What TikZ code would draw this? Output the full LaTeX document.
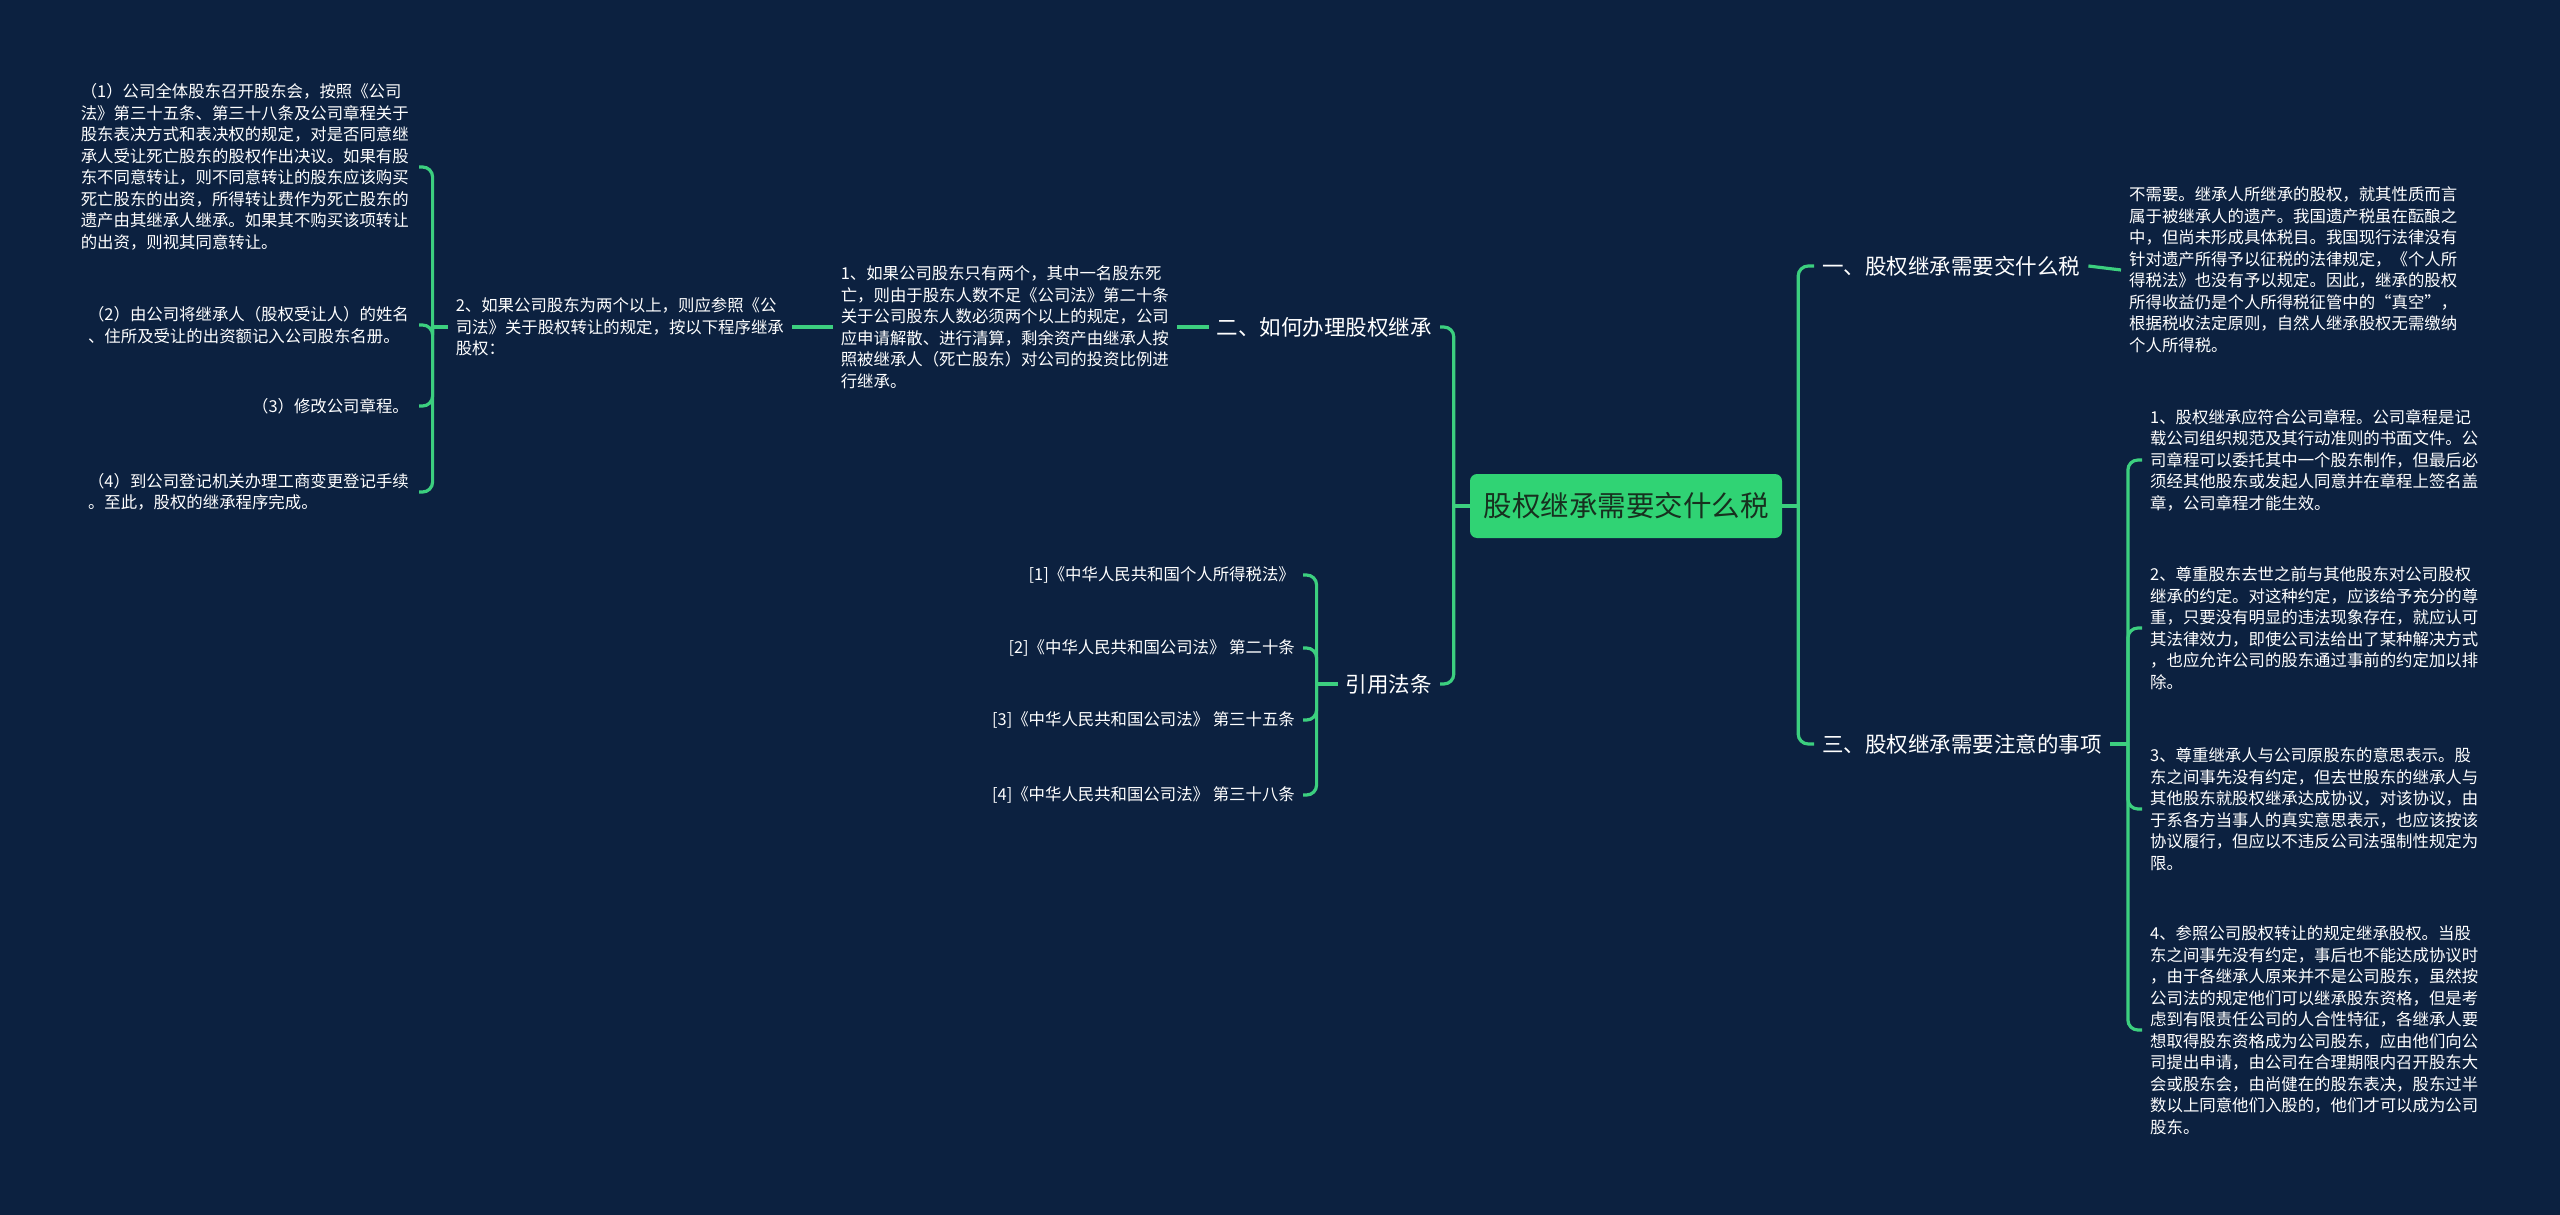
\documentclass[tikz,border=0pt]{standalone}
\usepackage{fontspec}
\newfontfamily\cjk{Noto Sans CJK SC}
\definecolor{bgc}{HTML}{0C2140}
\definecolor{lnc}{HTML}{3CCF7F}
\definecolor{rootc}{HTML}{30D374}
\definecolor{roottxt}{HTML}{17301F}
\tikzset{
  txt/.style={font=\cjk\fontsize{16.4}{21.5}\selectfont, text=white, align=left, inner xsep=8pt, inner ysep=2pt},
  lvl/.style={font=\cjk\fontsize{21.5}{26}\selectfont, text=white, inner xsep=8pt, inner ysep=3pt},
  rootbox/.style={font=\cjk\fontsize{28.5}{32}\selectfont, text=roottxt, fill=rootc, rounded corners=7pt, minimum width=312pt, minimum height=64pt, inner sep=0pt},
  link/.style={draw=lnc, line width=3.2pt, rounded corners=10pt}
}
\begin{document}
\begin{tikzpicture}[x=1pt,y=-1pt]
\fill[bgc] (0,0) rectangle (2560,1215);
\useasboundingbox (0,0) rectangle (2560,1215);

% root
\node[rootbox] (root) at (1626,506) {股权继承需要交什么税};

% level 1
\node[lvl, anchor=west] (n1) at (1814,266) {一、股权继承需要交什么税};
\node[lvl, anchor=west] (n3) at (1814,744) {三、股权继承需要注意的事项};
\node[lvl, anchor=east] (n2) at (1440,327) {二、如何办理股权继承};
\node[lvl, anchor=east] (n4) at (1440,684) {引用法条};

% right: child of 一
\node[txt, anchor=west] (a1) at (2121,270) {不需要。继承人所继承的股权，就其性质而言\\属于被继承人的遗产。我国遗产税虽在酝酿之\\中，但尚未形成具体税目。我国现行法律没有\\针对遗产所得予以征税的法律规定，《个人所\\得税法》也没有予以规定。因此，继承的股权\\所得收益仍是个人所得税征管中的“真空”，\\根据税收法定原则，自然人继承股权无需缴纳\\个人所得税。};

% right: children of 三
\node[txt, anchor=west] (c31) at (2142,460) {1、股权继承应符合公司章程。公司章程是记\\载公司组织规范及其行动准则的书面文件。公\\司章程可以委托其中一个股东制作，但最后必\\须经其他股东或发起人同意并在章程上签名盖\\章，公司章程才能生效。};
\node[txt, anchor=west] (c32) at (2142,628) {2、尊重股东去世之前与其他股东对公司股权\\继承的约定。对这种约定，应该给予充分的尊\\重，只要没有明显的违法现象存在，就应认可\\其法律效力，即使公司法给出了某种解决方式\\，也应允许公司的股东通过事前的约定加以排\\除。};
\node[txt, anchor=west] (c33) at (2142,809) {3、尊重继承人与公司原股东的意思表示。股\\东之间事先没有约定，但去世股东的继承人与\\其他股东就股权继承达成协议，对该协议，由\\于系各方当事人的真实意思表示，也应该按该\\协议履行，但应以不违反公司法强制性规定为\\限。};
\node[txt, anchor=west] (c34) at (2142,1030) {4、参照公司股权转让的规定继承股权。当股\\东之间事先没有约定，事后也不能达成协议时\\，由于各继承人原来并不是公司股东，虽然按\\公司法的规定他们可以继承股东资格，但是考\\虑到有限责任公司的人合性特征，各继承人要\\想取得股东资格成为公司股东，应由他们向公\\司提出申请，由公司在合理期限内召开股东大\\会或股东会，由尚健在的股东表决，股东过半\\数以上同意他们入股的，他们才可以成为公司\\股东。};

% left: 二 branch
\node[txt, anchor=east] (b1) at (1177,327) {1、如果公司股东只有两个，其中一名股东死\\亡，则由于股东人数不足《公司法》第二十条\\关于公司股东人数必须两个以上的规定，公司\\应申请解散、进行清算，剩余资产由继承人按\\照被继承人（死亡股东）对公司的投资比例进\\行继承。};
\node[txt, anchor=east] (b2) at (792,327) {2、如果公司股东为两个以上，则应参照《公\\司法》关于股权转让的规定，按以下程序继承\\股权：};

\node[txt, anchor=east, inner xsep=10pt] (s1) at (419,167) {（1）公司全体股东召开股东会，按照《公司\\法》第三十五条、第三十八条及公司章程关于\\股东表决方式和表决权的规定，对是否同意继\\承人受让死亡股东的股权作出决议。如果有股\\东不同意转让，则不同意转让的股东应该购买\\死亡股东的出资，所得转让费作为死亡股东的\\遗产由其继承人继承。如果其不购买该项转让\\的出资，则视其同意转让。};
\node[txt, anchor=east, inner xsep=10pt] (s2) at (419,325) {（2）由公司将继承人（股权受让人）的姓名\\、住所及受让的出资额记入公司股东名册。};
\node[txt, anchor=east, inner xsep=10pt] (s3) at (419,406) {（3）修改公司章程。};
\node[txt, anchor=east, inner xsep=10pt] (s4) at (419,492) {（4）到公司登记机关办理工商变更登记手续\\。至此，股权的继承程序完成。};

% left: 引用法条 branch
\node[txt, anchor=east] (r1) at (1303,575) {[1]《中华人民共和国个人所得税法》};
\node[txt, anchor=east] (r2) at (1303,648) {[2]《中华人民共和国公司法》 第二十条};
\node[txt, anchor=east] (r3) at (1303,720) {[3]《中华人民共和国公司法》 第三十五条};
\node[txt, anchor=east] (r4) at (1303,795) {[4]《中华人民共和国公司法》 第三十八条};

% bus coordinates
\coordinate (tr) at ([xshift=16pt]root.east);
\coordinate (tl) at ([xshift=-16pt]root.west);
\coordinate (k3) at ([xshift=18pt]n3.east);
\coordinate (k4) at ([xshift=-21pt]n4.west);
\coordinate (k2) at ([xshift=-15pt]b2.west);

% connectors root
\draw[link] (root.east) -- (tr);
\draw[link] (tr) |- (n1.west);
\draw[link] (tr) |- (n3.west);
\draw[link] (root.west) -- (tl);
\draw[link] (tl) |- (n2.east);
\draw[link] (tl) |- (n4.east);

% 一
\draw[link] (n1.east) -- (a1.west);

% 三
\draw[link] (n3.east) -- (k3);
\draw[link] (k3) |- (c31.west);
\draw[link] (k3) |- (c32.west);
\draw[link] (k3) |- (c33.west);
\draw[link] (k3) |- (c34.west);

% 二
\draw[link] (n2.west) -- (b1.east);
\draw[link] (b1.west) -- (b2.east);
\draw[link] (b2.west) -- (k2);
\draw[link] (k2) |- (s1.east);
\draw[link] (k2) |- (s2.east);
\draw[link] (k2) |- (s3.east);
\draw[link] (k2) |- (s4.east);

% 引用法条
\draw[link] (n4.west) -- (k4);
\draw[link] (k4) |- (r1.east);
\draw[link] (k4) |- (r2.east);
\draw[link] (k4) |- (r3.east);
\draw[link] (k4) |- (r4.east);
\end{tikzpicture}
\end{document}
